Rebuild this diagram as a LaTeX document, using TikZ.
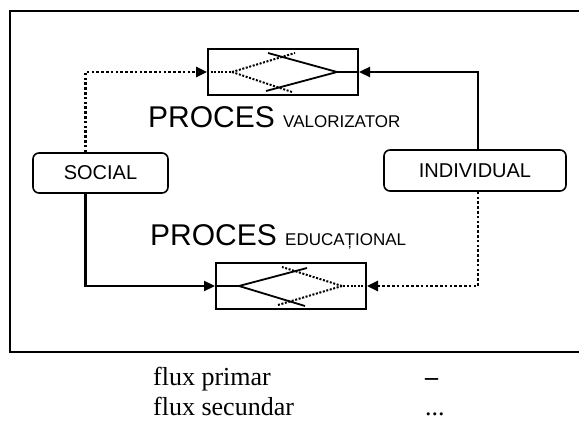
\documentclass[tikz,border=0pt]{standalone}
\usepackage{fontspec}
\setmainfont{Liberation Serif}
\newfontfamily\arialfont{Liberation Sans}
\usetikzlibrary{arrows.meta,calc}

\begin{document}
\begin{tikzpicture}[x=1pt,y=-1pt,
  frame/.style={line width=2.3pt},
  proc/.style={draw,line width=2pt,minimum width=150pt,minimum height=46pt,inner sep=0pt},
  agent/.style={draw,line width=1.6pt,rounded corners=6pt,inner sep=0pt,
    font=\arialfont\fontsize{20}{24}\selectfont},
  tip/.style={-{Triangle[length=11pt,width=10pt]}},
  prim/.style={line width=2.3pt,tip},
  sec/.style={line width=2.6pt,dash pattern=on 2.6pt off 2.2pt,tip},
  inprim/.style={line width=1.8pt},
  insec/.style={line width=2pt,dash pattern=on 2pt off 1.6pt},
  biglabel/.style={anchor=base west,inner sep=0pt,font=\arialfont\fontsize{30}{36}\selectfont},
  legend/.style={anchor=base west,inner sep=0pt,font=\fontsize{26}{30}\selectfont},
]
\useasboundingbox (0,0) rectangle (579,422);

% open frame
\draw[frame] (579,11) -- (10,11) -- (10,352) -- (579,352);

% process boxes
\node[proc] (vbox) at (283,72) {};
\node[proc] (ebox) at (291,286) {};

% agents
\node[agent,minimum width=135pt,minimum height=40pt] (social) at (100.5,173) {SOCIAL};
\node[agent,minimum width=182pt,minimum height=41pt] (indiv) at (475,170.5) {INDIVIDUAL};

% process labels
\node[biglabel] (vlabel) at (148,128) {PROCES {\fontsize{17}{20}\selectfont VALORIZATOR}};
\node[biglabel] (elabel) at (150,246) {PROCES {\fontsize{17}{20}\selectfont EDUCAȚIONAL}};

% flows
\coordinate (sN) at ($(social.north west)!0.39!(social.north east)$);
\coordinate (sS) at ($(social.south west)!0.39!(social.south east)$);
\coordinate (iN) at ($(indiv.north west)!0.516!(indiv.north east)$);
\coordinate (iS) at ($(indiv.south west)!0.516!(indiv.south east)$);
\draw[sec]  (sN) |- (vbox.west);
\draw[prim] (sS) |- (ebox.west);
\draw[prim] (iN) |- (vbox.east);
\draw[sec]  (iS) |- (ebox.east);

% inner pattern of the valorising process
\coordinate (vd) at ($(vbox.center)+(-51,0)$);
\coordinate (vs) at ($(vbox.center)+(54,0)$);
\draw[insec] (vbox.west) -- (vd);
\draw[insec] (vd) -- ($(vbox.center)+(12,-19)$);
\draw[insec] (vd) -- ($(vbox.center)+(9,20)$);
\draw[inprim] (vbox.east) -- (vs);
\draw[inprim] (vs) -- ($(vbox.center)+(-15,-19)$);
\draw[inprim] (vs) -- ($(vbox.center)+(-17,19)$);

% inner pattern of the educational process
\coordinate (es) at ($(ebox.center)+(-52,0)$);
\coordinate (ed) at ($(ebox.center)+(51,0)$);
\draw[inprim] (ebox.west) -- (es);
\draw[inprim] (es) -- ($(ebox.center)+(16,-18)$);
\draw[inprim] (es) -- ($(ebox.center)+(14,20)$);
\draw[insec] (ebox.east) -- (ed);
\draw[insec] (ed) -- ($(ebox.center)+(-9,-19)$);
\draw[insec] (ed) -- ($(ebox.center)+(-13,19)$);

% legend
\node[legend] (l1) at (153,385) {flux primar};
\node[legend] (l2) at (153,415) {flux secundar};
\node[legend] (k1) at (425,385) {\textbf{–}};
\node[legend] (k2) at (425,415) {...};
\end{tikzpicture}
\end{document}
